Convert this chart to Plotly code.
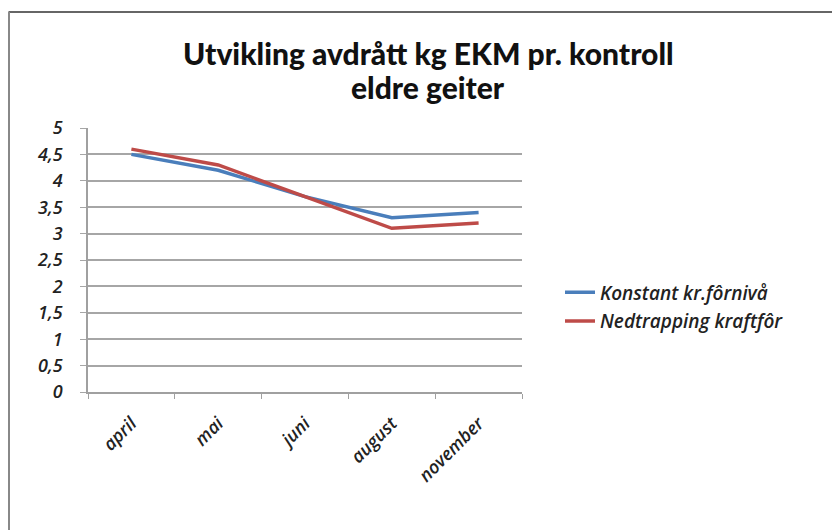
import plotly.graph_objects as go

months = ["april", "mai", "juni", "august", "november"]
konstant = [4.5, 4.2, 3.7, 3.3, 3.4]
nedtrapping = [4.6, 4.3, 3.7, 3.1, 3.2]
y_tickvals = [0, 0.5, 1, 1.5, 2, 2.5, 3, 3.5, 4, 4.5, 5]
y_ticktext = ["0", "0,5", "1", "1,5", "2", "2,5", "3", "3,5", "4", "4,5", "5"]
title_lines = ["Utvikling avdrått kg EKM pr. kontroll", "eldre geiter"]

# page body has an 8px margin, so figure coords = reference coords - 8
W, H = 832, 522
OFF = 8
L, R, T, B = 88 - OFF, W - (522 - OFF), 128 - OFF, H - (392 - OFF)
pw, ph = W - L - R, H - T - B


def px(xr):
    return (xr - OFF - L) / pw


def py(yr):
    return (H - B - (yr - OFF)) / ph


fig = go.Figure()
fig.add_trace(go.Scatter(x=months, y=konstant, mode="lines", name="Konstant kr.fôrnivå",
                         legendgroup="a", line=dict(color="#4a7ebb", width=3.5)))
fig.add_trace(go.Scatter(x=months, y=nedtrapping, mode="lines", name="Nedtrapping kraftfôr",
                         legendgroup="b", line=dict(color="#be4b48", width=3.5)))

fig.update_layout(
    width=W, height=H,
    margin=dict(l=L, r=R, t=T, b=B),
    paper_bgcolor="white", plot_bgcolor="white",
    legend=dict(x=px(560), y=py(307), xanchor="left", yanchor="middle",
                font=dict(family="Open Sans", size=19, color="#222222", style="italic", weight=600),
                tracegroupgap=1, bgcolor="rgba(0,0,0,0)"),
    showlegend=True,
)

title_font = dict(family="Lato", size=30, color="#111111", weight=900)
for txt, yc in zip(title_lines, [53, 87]):
    fig.add_annotation(text=txt, xref="paper", yref="paper", x=px(428), y=py(yc),
                       xanchor="center", yanchor="middle", showarrow=False, font=title_font)

fig.update_xaxes(type="category", range=[-0.5, 4.5], showgrid=False,
                 showline=True, linecolor="#a0a0a0", linewidth=1.5,
                 ticks="outside", tickson="boundaries", ticklen=5, tickcolor="#a0a0a0",
                 tickangle=-45, ticklabelstandoff=12,
                 tickfont=dict(family="Open Sans", size=18, color="#222222", style="italic", weight=600))
fig.update_yaxes(range=[0, 5], tickvals=y_tickvals, ticktext=y_ticktext,
                 showgrid=True, gridcolor="#a6a6a6", gridwidth=1.5,
                 showline=True, linecolor="#a0a0a0", linewidth=1.5,
                 ticks="outside", ticklen=6, tickcolor="#a6a6a6", zeroline=False,
                 ticklabelstandoff=14,
                 tickfont=dict(family="Open Sans", size=18, color="#222222", style="italic", weight=600))

# frame: top and left edges only
fig.add_shape(type="line", xref="paper", yref="paper",
              x0=px(8.5), x1=px(840), y0=py(12), y1=py(12),
              line=dict(color="#333333", width=1.5), layer="below")
fig.add_shape(type="line", xref="paper", yref="paper",
              x0=px(9), x1=px(9), y0=py(12), y1=py(540),
              line=dict(color="#888888", width=2), layer="below")

fig.write_html("out.html")
